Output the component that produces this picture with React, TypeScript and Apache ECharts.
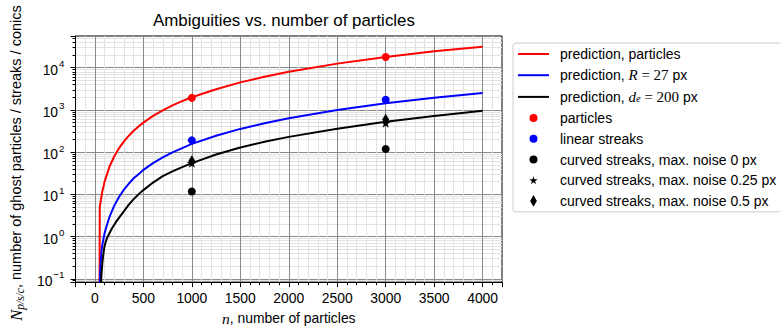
import React, { useEffect, useRef } from 'react';
import * as echarts from 'echarts';

// ---- data ----
const redN = [48, 50, 75, 100, 150, 200, 250, 300, 350, 400, 450, 500, 600, 700, 800, 900, 1000, 1250, 1500, 1750, 2000, 2500, 3000, 3500, 4000];
const redV = [0.05, 5, 11.3, 20, 45, 80, 125, 180, 245, 320, 405, 500, 720, 980, 1280, 1620, 2000, 3100, 4500, 6100, 8000, 12500, 18000, 24500, 31500];

const blueN = [50, 55, 60, 67, 75, 87, 100, 125, 150, 175, 200, 250, 300, 350, 400, 450, 500, 600, 700, 800, 900, 1000, 1250, 1500, 1750, 2000, 2500, 3000, 3500, 4000];
const blueV = [0.07, 0.16, 0.25, 0.42, 0.6, 0.85, 1.2, 1.9, 2.9, 4.0, 5.4, 8.8, 13, 18, 24, 30, 38, 55, 75, 99, 125, 157, 245, 355, 485, 635, 990, 1440, 1950, 2520];

const blackN = [62, 66, 70, 77, 85, 92, 100, 115, 130, 150, 175, 200, 225, 250, 300, 350, 400, 450, 500, 600, 700, 800, 900, 1000, 1250, 1500, 1750, 2000, 2500, 3000, 3500, 4000];
const blackV = [0.07, 0.11, 0.15, 0.24, 0.35, 0.46, 0.6, 0.8, 0.98, 1.2, 1.55, 1.9, 2.35, 2.8, 4.0, 5.7, 7.7, 10, 12.6, 19, 27, 35, 44, 55, 88, 129, 177, 230, 360, 525, 720, 950];

const sampleN = [1000, 3000];
const particlesV = [1930, 18000];
const linearV = [190, 1740];
const curved0V = [11.7, 119];
const curved025V = [55, 490];
const curved05V = [62, 590];

const seriesNames = [
  'prediction, particles',
  'prediction, R = 27 px',
  'prediction, d_e = 200 px',
  'particles',
  'linear streaks',
  'curved streaks, max. noise 0 px',
  'curved streaks, max. noise 0.25 px',
  'curved streaks, max. noise 0.5 px',
];

const titleText = 'Ambiguities vs. number of particles';

const SANS = '"Liberation Sans", Arial, Helvetica, sans-serif';
const SERIF = '"Liberation Serif", "Times New Roman", serif';

const STAR_PATH =
  'path://M10 0L12.245 6.91L19.511 6.91L13.633 11.18L15.878 18.09L10 13.82L4.122 18.09L6.367 11.18L0.489 6.91L7.755 6.91Z';
const STAR_ICON =
  'path://M-3.75 -4.7M23.75 22.8M10 0L12.245 6.91L19.511 6.91L13.633 11.18L15.878 18.09L10 13.82L4.122 18.09L6.367 11.18L0.489 6.91L7.755 6.91Z';
const CIRCLE_ICON = 'path://M0 0M12 12M6 2A4 4 0 1 1 6 10A4 4 0 1 1 6 2Z';
const DIAMOND_ICON = 'path://M0 0M12 12M6 0.2L9.4 6L6 11.8L2.6 6Z';
const LINE_ICON = 'path://M0 0M31 12M0 5L31 5L31 7L0 7Z';

const pairs = (xs: number[], ys: number[]) => xs.map((x, i) => [x, ys[i]]);

const legendLabels: Record<string, string> = {
  'prediction, R = 27 px': 'prediction, {i|R}{m| = 27} px',
  'prediction, d_e = 200 px': 'prediction, {i|d}{sub|e}{m| = 200} px',
};

const FS = 13.9;

function buildOption() {
  const lineSeries = (name: string, xs: number[], ys: number[], color: string) => ({
    type: 'line',
    name,
    data: pairs(xs, ys),
    symbol: 'none',
    showSymbol: false,
    smooth: false,
    clip: true,
    z: 2,
    lineStyle: { color, width: 2, join: 'round' },
    itemStyle: { color },
  });
  const scatterSeries = (name: string, ys: number[], color: string, symbol: string, size: any, z: number) => ({
    type: 'scatter',
    name,
    data: pairs(sampleN, ys),
    symbol,
    symbolSize: size,
    z,
    itemStyle: { color, opacity: 1 },
  });

  return {
    animation: false,
    backgroundColor: '#ffffff',
    textStyle: { fontFamily: SANS },
    title: {
      text: titleText,
      left: 153,
      top: 12,
      padding: 0,
      textStyle: { fontSize: 16.9, fontWeight: 'normal', color: '#000', fontFamily: SANS },
    },
    grid: {
      left: 68,
      top: 36,
      right: 278,
      bottom: 44,
      show: true,
      borderColor: '#000',
      borderWidth: 1,
      backgroundColor: '#fff',
      containLabel: false,
    },
    legend: {
      orient: 'vertical',
      left: 513,
      top: 43,
      padding: [4, 5, 4, 5],
      itemWidth: 31,
      itemHeight: 12,
      itemGap: 6.7,
      backgroundColor: '#fff',
      borderColor: '#cccccc',
      borderWidth: 1,
      borderRadius: 3,
      selectedMode: false,
      formatter: (name: string) => legendLabels[name] ?? name,
      textStyle: {
        fontSize: 14,
        color: '#000',
        fontFamily: SANS,
        lineHeight: 14,
        padding: [0, 0, 0, 6],
        rich: {
          i: { fontFamily: SERIF, fontStyle: 'italic', fontSize: 15, color: '#000', lineHeight: 14 },
          m: { fontFamily: SERIF, fontSize: 15, color: '#000', lineHeight: 14 },
          sub: { fontFamily: SERIF, fontStyle: 'italic', fontSize: 10.5, color: '#000', lineHeight: 9, verticalAlign: 'bottom' },
        },
      },
      data: [
        { name: seriesNames[0], icon: LINE_ICON },
        { name: seriesNames[1], icon: LINE_ICON },
        { name: seriesNames[2], icon: LINE_ICON },
        { name: seriesNames[3], icon: CIRCLE_ICON },
        { name: seriesNames[4], icon: CIRCLE_ICON },
        { name: seriesNames[5], icon: CIRCLE_ICON },
        { name: seriesNames[6], icon: STAR_ICON },
        { name: seriesNames[7], icon: DIAMOND_ICON },
      ],
    },
    xAxis: {
      type: 'value',
      min: -200,
      max: 4200,
      splitNumber: 8,
      axisLine: { show: true, onZero: false, lineStyle: { color: '#000', width: 1 } },
      axisTick: { show: true, length: 5, lineStyle: { color: '#000', width: 1 } },
      minorTick: { show: true, splitNumber: 5, length: 3, lineStyle: { color: '#000', width: 1 } },
      splitLine: { show: true, showMinLine: false, showMaxLine: false, lineStyle: { color: '#8a8a8a', width: 1 } },
      minorSplitLine: { show: true, lineStyle: { color: '#e2e2e2', width: 1 } },
      axisLabel: {
        show: true,
        showMinLabel: false,
        showMaxLabel: false,
        margin: 9,
        fontSize: FS,
        color: '#000',
        fontFamily: SANS,
        formatter: (v: number) => String(v),
      },
      name: '{i|n}, number of particles',
      nameLocation: 'middle',
      nameGap: 24,
      nameTextStyle: {
        fontSize: FS,
        color: '#000',
        fontFamily: SANS,
        rich: {
          i: { fontFamily: SERIF, fontStyle: 'italic', fontSize: 15.5, color: '#000' },
        },
      },
    },
    yAxis: {
      type: 'log',
      logBase: 10,
      min: 0.0834,
      max: 56400,
      axisLine: { show: true, onZero: false, lineStyle: { color: '#000', width: 1 } },
      axisTick: { show: true, length: 5, lineStyle: { color: '#000', width: 1 } },
      minorTick: { show: true, splitNumber: 9, length: 3, lineStyle: { color: '#000', width: 1 } },
      splitLine: { show: true, showMinLine: false, showMaxLine: false, lineStyle: { color: '#8a8a8a', width: 1 } },
      minorSplitLine: { show: true, lineStyle: { color: '#e2e2e2', width: 1 } },
      axisLabel: {
        show: true,
        showMinLabel: false,
        showMaxLabel: false,
        margin: 11,
        color: '#000',
        formatter: (v: number) => {
          const l = Math.log10(v);
          const e = Math.round(l);
          if (Math.abs(l - e) > 1e-6) return '';
          const s = e < 0 ? '\u2212' + String(-e) : String(e);
          return '{b|10}{s|' + s + '}';
        },
        rich: {
          b: { fontSize: FS, fontFamily: SANS, color: '#000', lineHeight: 18, verticalAlign: 'bottom' },
          s: { fontSize: 9.8, fontFamily: SANS, color: '#000', lineHeight: 10, verticalAlign: 'top', padding: [0, 0, 0, 1] },
        },
      },
      name: '{N|N}{s|p/s/c}{t|, number of ghost particles / streaks / conics}',
      nameLocation: 'middle',
      nameRotate: 90,
      nameGap: 46,
      nameTextStyle: {
        fontSize: 14.5,
        color: '#000',
        fontFamily: SANS,
        padding: [0, 8, 0, 0],
        rich: {
          N: { fontFamily: SERIF, fontStyle: 'italic', fontSize: 16.5, color: '#000', lineHeight: 18, verticalAlign: 'top' },
          s: { fontFamily: SERIF, fontStyle: 'italic', fontSize: 11.5, color: '#000', lineHeight: 12, verticalAlign: 'bottom' },
          t: { fontFamily: SANS, fontSize: 14.5, color: '#000', lineHeight: 18, verticalAlign: 'top' },
        },
      },
    },
    series: [
      lineSeries(seriesNames[0], redN, redV, '#ff0000'),
      lineSeries(seriesNames[1], blueN, blueV, '#0000ff'),
      lineSeries(seriesNames[2], blackN, blackV, '#000000'),
      scatterSeries(seriesNames[3], particlesV, '#ff0000', 'circle', 8, 3),
      scatterSeries(seriesNames[4], linearV, '#0000ff', 'circle', 8, 3),
      scatterSeries(seriesNames[5], curved0V, '#000000', 'circle', 8, 3),
      scatterSeries(seriesNames[6], curved025V, '#000000', STAR_PATH, [10, 9.5], 3),
      scatterSeries(seriesNames[7], curved05V, '#000000', 'diamond', [7, 11.5], 4),
    ],
  };
}

export default function App() {
  const ref = useRef<HTMLDivElement>(null);
  useEffect(() => {
    document.body.style.margin = '0';
    const chart = echarts.init(ref.current as HTMLDivElement, null, { renderer: 'svg' });
    chart.setOption(buildOption() as any);
    return () => {
      chart.dispose();
    };
  }, []);
  return <div ref={ref} style={{ width: 780, height: 331 }} />;
}
